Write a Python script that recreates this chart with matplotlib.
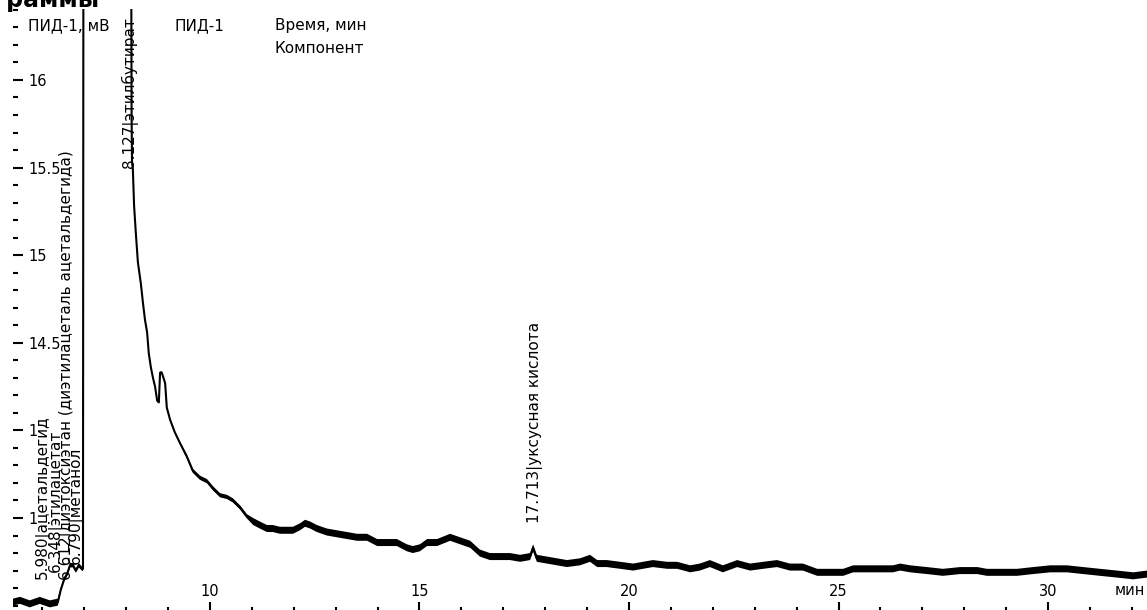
import matplotlib
matplotlib.use('Agg')
import matplotlib.pyplot as plt
from matplotlib.ticker import MultipleLocator, FuncFormatter

plt.rcParams['font.family'] = ['DejaVu Sans']

# время удерживания, мин
time_min = [5.30, 5.47, 5.70, 5.94, 6.18, 6.37, 6.44, 6.52, 6.59, 6.66,
            6.73, 6.80, 6.87, 6.95, 6.97, 6.98, 8.12, 8.13, 8.14, 8.16,
            8.19, 8.23, 8.28, 8.35, 8.40, 8.45, 8.50, 8.54, 8.59, 8.64,
            8.69, 8.74, 8.78, 8.81, 8.85, 8.93, 8.97, 9.05, 9.16, 9.28,
            9.45, 9.59, 9.76, 9.93, 10.07, 10.24, 10.41, 10.55, 10.72, 10.88,
            11.03, 11.19, 11.36, 11.50, 11.67, 11.84, 11.98, 12.15, 12.27, 12.39,
            12.55, 12.79, 13.03, 13.27, 13.51, 13.75, 13.99, 14.22, 14.46, 14.70,
            14.84, 15.01, 15.18, 15.42, 15.73, 15.97, 16.21, 16.44, 16.68, 16.92,
            17.16, 17.40, 17.64, 17.71, 17.80, 18.04, 18.28, 18.52, 18.83, 19.07,
            19.24, 19.47, 19.79, 20.10, 20.33, 20.57, 20.91, 21.15, 21.46, 21.69,
            21.93, 22.24, 22.58, 22.89, 23.20, 23.53, 23.84, 24.15, 24.49, 24.80,
            25.11, 25.35, 25.82, 26.30, 26.47, 26.71, 27.11, 27.49, 27.90, 28.31,
            28.54, 28.93, 29.26, 29.64, 30.05, 30.45, 30.84, 31.24, 31.65, 32.03,
            32.36]

# сигнал ПИД-1, мВ
signal_mv = [13.02, 13.03, 13.01, 13.03, 13.01, 13.02, 13.09, 13.15, 13.18, 13.23,
             13.23, 13.20, 13.23, 13.21, 13.21, 16.8, 16.8, 15.8, 15.53, 15.49,
             15.28, 15.13, 14.96, 14.84, 14.73, 14.63, 14.56, 14.44, 14.36, 14.30,
             14.25, 14.17, 14.16, 14.33, 14.33, 14.27, 14.13, 14.06, 13.99, 13.93,
             13.85, 13.77, 13.73, 13.71, 13.67, 13.63, 13.62, 13.60, 13.56, 13.51,
             13.48, 13.46, 13.44, 13.44, 13.43, 13.43, 13.43, 13.45, 13.47, 13.46,
             13.44, 13.42, 13.41, 13.40, 13.39, 13.39, 13.36, 13.36, 13.36, 13.33,
             13.32, 13.33, 13.36, 13.36, 13.39, 13.37, 13.35, 13.30, 13.28, 13.28,
             13.28, 13.27, 13.28, 13.33, 13.27, 13.26, 13.25, 13.24, 13.25, 13.27,
             13.24, 13.24, 13.23, 13.22, 13.23, 13.24, 13.23, 13.23, 13.21, 13.22,
             13.24, 13.21, 13.24, 13.22, 13.23, 13.24, 13.22, 13.22, 13.19, 13.19,
             13.19, 13.21, 13.21, 13.21, 13.22, 13.21, 13.20, 13.19, 13.20, 13.20,
             13.19, 13.19, 13.19, 13.20, 13.21, 13.21, 13.20, 13.19, 13.18, 13.17,
             13.18]

# полуширина шумовой полосы, мВ
noise_mv = [0.02]*6 + [0.012]*9 + [0.0]*2 + [0.003]*15 + [0.006]*8 + [0.012]*10 + [0.02]*81

peak_times = [5.980, 6.348, 6.612, 6.790, 8.127, 17.713]
peak_names = ['ацетальдегид', 'этилацетат',
              'диэтоксиэтан (диэтилацеталь ацетальдегида)', 'метанол',
              'этилбутират', 'уксусная кислота']

y_major = [13.5, 14, 14.5, 15, 15.5, 16]

fig = plt.figure(figsize=(11.47, 6.10), dpi=100)
ax = fig.add_axes([13/1147, 0, 1134/1147, 601/610])

lo = [s - n for s, n in zip(signal_mv, noise_mv)]
hi = [s + n for s, n in zip(signal_mv, noise_mv)]
ax.fill_between(time_min, lo, hi, color='black', lw=0, zorder=4)
ax.plot(time_min, signal_mv, color='black', lw=1.5, zorder=4)

ax.set_xlim(5.30, 32.36)
ax.set_ylim(12.975, 16.405)
for sp in ax.spines.values():
	sp.set_visible(False)

ax.xaxis.set_major_locator(MultipleLocator(5))
ax.xaxis.set_minor_locator(MultipleLocator(1))
ax.set_yticks(y_major)
ax.yaxis.set_minor_locator(MultipleLocator(0.1))
ax.yaxis.set_major_formatter(FuncFormatter(lambda v, p: '%g' % v))

ax.tick_params(axis='x', which='major', direction='in', length=6, width=1.5, pad=-19, labelsize=10.5)
ax.tick_params(axis='x', which='minor', direction='in', length=2.5, width=1.5)
ax.tick_params(axis='y', which='major', direction='in', length=7, width=1.5, pad=-11, labelsize=10.5)
ax.tick_params(axis='y', which='minor', direction='in', length=3.5, width=1.5)
plt.setp(ax.get_yticklabels(), ha='left')

# подписи пиков (сдвиг текста относительно пика)
dx = [0.025, -0.035, -0.025, 0.01, -0.04, 0.05]
ty = [13.15, 13.19, 15.60, 13.24, 15.50, 13.47]
va = ['bottom', 'bottom', 'top', 'bottom', 'bottom', 'bottom']
for t, name, d, y, a in zip(peak_times, peak_names, dx, ty, va):
	ax.text(t + d, y, '%.3f|%s' % (t, name), rotation=90, ha='center', va=a,
		fontsize=11, zorder=3,
		bbox=dict(facecolor='white', edgecolor='none', pad=-1.5))

ax.text(15/1134, 0.973, 'ПИД-1, мВ', transform=ax.transAxes, fontsize=11, va='center', zorder=2)
ax.text(162/1134, 0.973, 'ПИД-1', transform=ax.transAxes, fontsize=11, va='center', zorder=2)
ax.text(262/1134, 0.973, 'Время, мин', transform=ax.transAxes, fontsize=11, va='center', zorder=2)
ax.text(262/1134, 0.935, 'Компонент', transform=ax.transAxes, fontsize=11, va='center', zorder=2)
ax.text(0.998, 0.032, 'мин', transform=ax.transAxes, fontsize=10.5, ha='right', va='center')

fig.text(100/1147, 1 - 7/610, 'Хроматограммы', fontsize=17, fontweight='bold',
	ha='right', va='baseline')

fig.savefig('out.png', dpi=100)
